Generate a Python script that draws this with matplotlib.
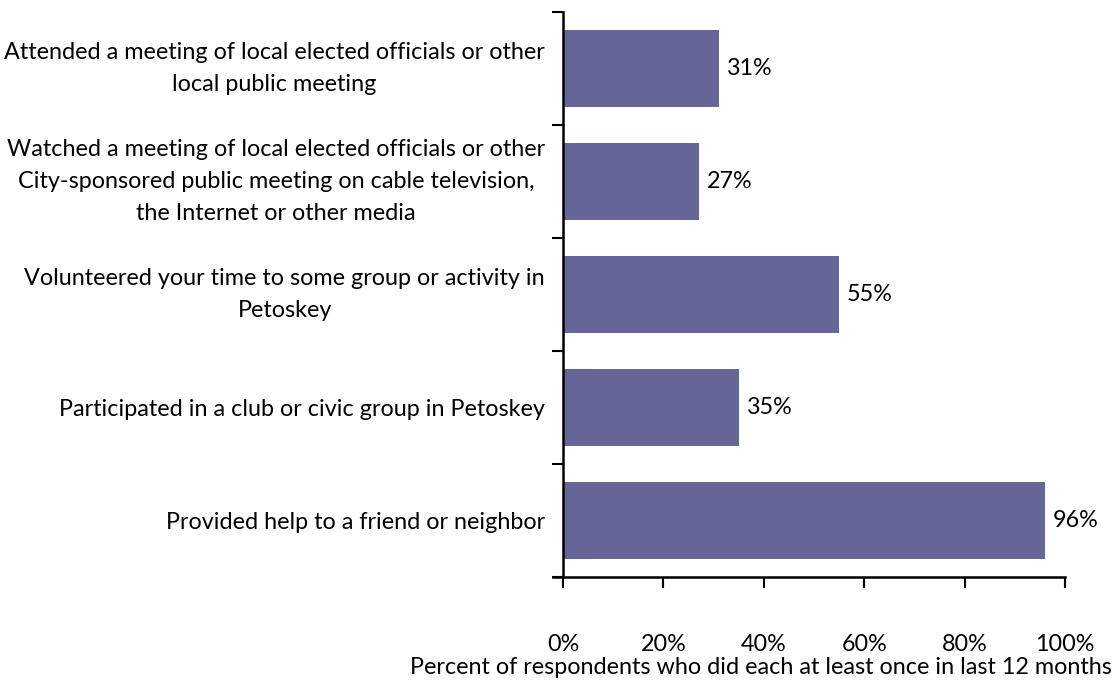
import matplotlib
matplotlib.use("Agg")
import matplotlib.pyplot as plt
from matplotlib.ticker import FixedLocator, PercentFormatter

plt.rcParams['font.family'] = ['Lato', 'DejaVu Sans']

# categories top to bottom
categories = [
    "Attended a meeting of local elected officials or other\nlocal public meeting",
    "Watched a meeting of local elected officials or other\nCity-sponsored public meeting on cable television,\nthe Internet or other media",
    "Volunteered your time to some group or activity in\nPetoskey",
    "Participated in a club or civic group in Petoskey",
    "Provided help to a friend or neighbor",
]
values = [31, 27, 55, 35, 96]
x_ticks = [0, 20, 40, 60, 80, 100]
bar_color = '#676699'
fs = 16.8

fig = plt.figure(figsize=(11.16, 6.8), dpi=100)
ax = fig.add_axes([563/1116, 1 - 577/680, (1065 - 563)/1116, (577 - 12)/680])

n = len(categories)
ypos = list(range(n - 1, -1, -1))
ax.barh(ypos, values, height=0.68, color=bar_color)

for y, v in zip(ypos, values):
    ax.text(v + 1.6, y, f"{v}%", va='center', ha='left', fontsize=fs)

ax.set_xlim(0, 100)
ax.set_ylim(-0.5, n - 0.5)
ax.set_yticks(ypos)
ax.set_yticklabels(categories, fontsize=fs, linespacing=1.65, ha='right',
                   multialignment='center')
# multi-line labels: center the whole block on the bar
for lbl in ax.get_yticklabels():
    if '\n' in lbl.get_text():
        lbl.set_va('center')
ax.tick_params(axis='y', which='major', length=0, pad=13)
ax.yaxis.set_minor_locator(FixedLocator([i - 0.5 for i in range(n + 1)]))
ax.tick_params(axis='y', which='minor', length=8, width=1.5)

ax.set_xticks(x_ticks)
ax.xaxis.set_major_formatter(PercentFormatter(decimals=0))
ax.tick_params(axis='x', length=8, width=1.5, labelsize=fs, pad=33)
ax.set_xlabel("Percent of respondents who did each at least once in last 12 months",
              fontsize=fs, ha='right')
ax.xaxis.set_label_coords((1112 - 563) / 502, (577 - 657) / 565)

for s in ['top', 'right']:
    ax.spines[s].set_visible(False)
ax.spines['left'].set_linewidth(1.8)
ax.spines['bottom'].set_linewidth(1.8)
ax.spines['bottom'].set_bounds(-2, 100)

fig.savefig("out.png", dpi=100)
